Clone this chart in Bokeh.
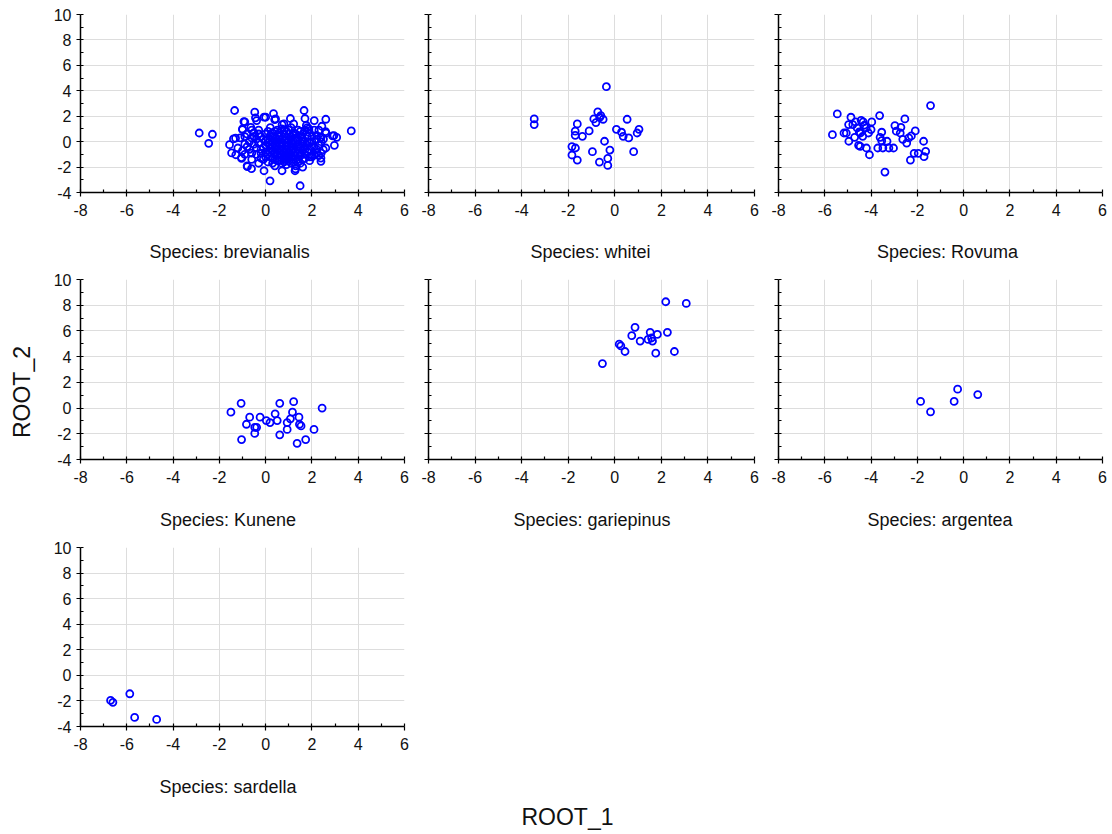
from bokeh.plotting import figure
from bokeh.layouts import column, row
from bokeh.models import SingleIntervalTicker, Range1d, CustomJSTickFormatter, Div
from bokeh.embed import file_html
from bokeh.resources import INLINE

# ---------------- data ----------------
brev_x = [-2.87, -2.3, -2.46, -1.34, -1.56, 3.7, 1.49, 0.19, 1.66, 2.6, 2.1, -0.47, 0.34, -0.44, -0.07, 0.39,
          1.07, 1.7, -0.9, -1.04, -0.79, -0.61, -0.07, 0.71, 1.27, 1.6, 2.39, 2.39, 2.97, 3.07, 2.89, 2.43,
          2.61, 2.39, 2.49, 0.71, 1.21, 1.76, -1.39, -1.47, -1.29, -1.0, -0.64, -1.3, -1.04, -0.8, -0.94, -0.39,
          0.0, 0.43, 2.59, 2.95, 2.37, 1.29, 0.79, 1.87, 2.01,
          -0.8, -0.6, -0.5, -0.7, -0.4, -0.3, -0.2, -0.1, 0.0, 0.1, 0.2, 0.3, 0.4, 0.5, 0.6, 0.7, 0.8, 0.9, 1.0,
          1.1, 1.2, 1.3, 1.4, 1.5, 1.6, 1.7, 1.8, 1.9, 2.0, 2.1, 2.2, 2.3,
          -0.9, -0.6, -0.3, 0.0, 0.2, 0.4, 0.5, 0.7, 0.9, 1.1, 1.3, 1.5, 1.7, 1.9, 2.1, 2.4,
          -0.5, -0.2, 0.1, 0.3, 0.6, 0.8, 1.0, 1.2, 1.4, 1.6, 1.8, 2.0, 0.5, 0.9, 1.3, 0.2, 0.7, 1.1, 0.0, 1.5,
          0.4, 0.8, 1.2, 1.6, -0.1, 0.3, 0.6, 1.0, 1.4, 1.8, 2.2, -0.4, 0.1, 0.6, 1.0, 1.4, 1.9, -0.7, -0.3, 0.2,
          0.5, 0.9, 1.3, 1.7, 0.0, 0.4, 0.8, 1.2, 1.6, 2.0, -0.2, 0.7, 1.1, 1.5, 0.3, 0.9, 1.7, -1.1, -1.2, -0.9,
          -1.0, 2.5, 2.3, 2.6,
          0.6, 0.7, 0.8, 0.9, 1.0, 1.1, 1.2, 1.3, 0.5, 0.4, 0.6, 1.0, 1.2, 0.3, 0.8, 1.4, 0.2, 0.5, 0.9, 1.1,
          -0.6, -0.4, -0.2, 0.0, 0.1, 0.3, 0.4, 0.6, 0.7, 0.9, 1.0, 1.2, 1.3, 1.5, 1.6, 1.8, 1.9, 2.1, 2.2, 2.3,
          -0.8, -0.5, -0.1, 0.1, 0.3, 0.5, 0.7, 0.8, 1.0, 1.1, 1.3, 1.4, 1.6, 1.7, 1.9, 2.0, 2.2, 2.4, -0.3, 0.2,
          0.6, 0.9, 1.2, 0.4, 0.8, 1.4, 1.8, -0.6, -0.9, -1.0]
brev_y = [0.68, 0.58, -0.13, 2.45, -0.24, 0.84, -3.47, -3.08, 2.45, 1.76, 1.66, 2.32, 2.21, 1.87, 1.92, 1.74,
          1.82, 1.82, 1.55, -1.32, -1.97, -2.13, -2.29, -2.29, -2.29, -2.0, -1.55, -1.29, -0.29, 0.34, 0.45, 1.21,
          0.68, 0.29, -0.63, 1.34, 1.39, 1.29, 0.21, -0.89, -1.03, 0.95, 1.13, 0.27, -1.25, -1.9, 1.58, 1.66,
          1.92, 1.79, 0.79, 0.48, 0.35, -2.14, 1.4, 1.0, -1.09,
          0.6, 0.3, -0.2, -0.6, -1.0, 0.9, 0.4, -0.5, -1.2, 0.2, -0.8, 0.7, -0.3, -1.5, 0.4, -0.7, 0.1, -1.1, 0.6,
          -0.4, -1.6, 0.3, -0.9, 0.8, -0.2, -1.3, 0.4, -0.6, 0.0, -1.0, 0.5, -0.3,
          -0.2, -1.4, -1.7, 0.6, 1.1, -1.9, 0.9, 1.0, -1.8, 1.1, -1.9, -0.5, 0.9, -1.5, 0.9, -0.9,
          0.7, -0.9, -0.1, -1.3, -0.1, -1.4, -0.8, 0.0, -0.4, 0.2, -0.8, -1.2, 0.1, 0.3, -0.6, -0.5, -0.4, -1.2, -0.8, -1.1,
          0.4, -0.9, 0.7, -0.7, 0.2, 0.0, -0.9, 0.1, 0.1, 0.0, -0.6, -0.5, -1.6, -1.2, -1.5, -1.4, -0.1, 0.0, -0.1, 0.5,
          -0.6, -0.3, -1.1, -0.4, -0.3, -1.0, 0.6, -0.6, 0.6, 0.4, -1.3, -1.7, 0.4, -1.7, -0.7, -0.6, -1.0, 0.3, -0.5, -1.0,
          1.0, 0.2, 0.9, -0.5,
          -0.2, 0.2, -0.5, -0.1, -0.3, -0.7, -0.2, 0.1, -0.4, -0.8, -0.7, -1.0, -0.9, -0.4, -1.1, -0.2, -0.2, -1.0, -0.8, -0.1,
          -0.9, 0.2, -0.6, 0.1, -1.0, 0.4, -1.4, 0.7, -1.0, 0.8, -1.3, 0.5, -0.8, 0.4, -1.4, -0.3, 0.7, -0.4, 0.2, -1.1,
          -0.4, 0.4, -1.4, 0.8, -1.7, 0.5, -0.1, -1.6, 0.9, -1.7, 0.6, -1.6, 0.0, -0.6, -1.2, -0.4, -0.9, 0.0, 0.6, -1.2,
          -1.5, -1.4, -1.4, 0.8, 0.9, 0.9, 1.1, 0.9, 0.4, -0.7]

whitei_x = [-0.36, -3.46, -3.46, -1.61, -1.7, -1.7, -1.39, -1.1, -0.73, -0.9, -0.81, -0.6, -0.5, -0.65, 0.53, 0.07,
            0.29, 0.36, 0.6, 0.96, 1.04, -0.44, -0.21, 0.81, -0.96, -1.84, -1.69, -1.84, -1.61, -0.66, -0.3, -0.3]
whitei_y = [4.32, 1.79, 1.34, 1.39, 0.82, 0.5, 0.42, 0.84, 2.34, 1.79, 1.5, 2.05, 1.76, 1.9, 1.76, 0.97,
            0.74, 0.42, 0.29, 0.68, 0.97, 0.03, -0.66, -0.79, -0.79, -0.39, -0.5, -1.05, -1.45, -1.61, -1.32, -1.87]

rovuma_x = [-1.43, -5.46, -5.67, -5.17, -5.07, -4.96, -4.97, -4.87, -4.79, -4.67, -4.6, -4.71, -4.54, -4.47, -4.43,
            -4.34, -4.29, -4.21, -4.46, -4.36, -4.2, -4.07, -4.11, -4.0, -3.97, -4.51, -3.63, -3.54, -3.61, -3.54,
            -3.71, -3.49, -3.31, -3.23, -3.03, -3.4, -2.97, -2.91, -2.71, -2.74, -2.54, -2.63, -2.46, -2.37, -2.26,
            -2.09, -1.73, -2.14, -1.96, -1.64, -1.71, -2.3]
rovuma_y = [2.84, 2.18, 0.55, 0.68, 0.68, 0.03, 1.34, 1.92, 1.34, 1.55, 1.08, 0.34, -0.29, -0.37, 1.68,
            1.55, 1.29, 1.08, 0.68, 0.42, -0.5, -1.03, 0.68, 0.95, 1.55, 0.76, 2.05, 0.74, 0.34, 0.08,
            -0.5, -0.5, 0.03, -0.5, -0.5, -2.39, 1.26, 0.82, 1.13, 0.68, 1.79, 0.18, -0.11, 0.29, 0.45,
            0.84, 0.03, -0.92, -0.92, -0.76, -1.18, -1.45]

kunene_x = [-1.5, -1.06, -1.04, -0.69, -0.83, -0.47, -0.39, -0.47, -0.24, 0.03, 0.19, 0.41, 0.5, 0.61, 0.61,
            0.93, 0.93, 1.07, 1.16, 1.21, 1.44, 1.46, 1.53, 1.36, 1.73, 2.09, 2.44]
kunene_y = [-0.32, 0.37, -2.45, -0.71, -1.26, -1.5, -1.5, -1.97, -0.71, -0.97, -1.13, -0.45, -0.97, 0.37, -2.08,
            -1.66, -1.13, -0.84, -0.32, 0.5, -0.71, -1.26, -1.39, -2.74, -2.45, -1.66, 0.0]

gariep_x = [2.19, 3.07, 0.87, 0.73, 1.09, 1.52, 1.83, 2.26, 1.43, 1.62, 1.58, 0.19, 0.26, 0.44, 1.76, 2.56, -0.53]
gariep_y = [8.27, 8.14, 6.28, 5.63, 5.21, 5.89, 5.73, 5.89, 5.34, 5.21, 5.45, 4.97, 4.84, 4.4, 4.27, 4.4, 3.46]

argent_x = [-1.86, -1.43, -0.41, -0.26, 0.61]
argent_y = [0.52, -0.29, 0.52, 1.47, 1.05]

sard_x = [-6.7, -6.6, -5.87, -5.66, -4.71]
sard_y = [-1.96, -2.11, -1.44, -3.29, -3.45]

species = ["brevianalis", "whitei", "Rovuma", "Kunene", "gariepinus", "argentea", "sardella"]
tick_interval = 2
x_limits = (-8, 6)
y_limits = (-4, 10)
x_title = "ROOT_1"
y_title = "ROOT_2"

FONT = "Liberation Sans"
BLUE = "#0000ff"
TXT = "#111111"
LEFT = 40          # width of the left strip holding ROOT_2
MAIN_W = 1070      # width of the panel grid


def make_panel(xs, ys, fw, fh, lb, rb, tb, bb, ylabels):
    p = figure(frame_width=fw, frame_height=fh,
               min_border_left=lb, min_border_right=rb, min_border_top=tb, min_border_bottom=bb,
               x_range=Range1d(*x_limits), y_range=Range1d(*y_limits),
               output_backend="svg", toolbar_location=None, tools="")
    p.outline_line_color = None
    p.background_fill_color = "white"
    p.border_fill_color = "white"
    for ax in (p.xaxis[0], p.yaxis[0]):
        ax.ticker = SingleIntervalTicker(interval=tick_interval, num_minor_ticks=2)
        ax.axis_line_color = "black"
        ax.axis_line_width = 1.5
        ax.major_tick_line_color = "black"
        ax.major_tick_line_width = 1.2
        ax.major_tick_out = 4
        ax.major_tick_in = 0
        ax.minor_tick_line_color = "black"
        ax.minor_tick_line_width = 1.2
        ax.minor_tick_in = 3
        ax.minor_tick_out = 0
        ax.major_label_text_font = FONT
        ax.major_label_text_font_size = "16px"
        ax.major_label_text_color = TXT
    p.xaxis.formatter = CustomJSTickFormatter(code="return tick.toString()")
    p.xaxis.major_label_standoff = 7
    p.yaxis.major_label_standoff = 5
    if ylabels:
        p.yaxis.formatter = CustomJSTickFormatter(code="return tick.toString()")
    else:
        p.yaxis.formatter = CustomJSTickFormatter(code="return ''")
    p.grid.grid_line_color = "#dddddd"
    p.grid.grid_line_width = 1
    p.scatter(xs, ys, marker="circle", size=7, fill_color=None, line_color=BLUE, line_width=1.8)
    return p


def text_html(txt, cx, cy, size, rotate=False):
    rot = " rotate(-90deg)" if rotate else ""
    return (f'<div style="position:absolute;left:{cx}px;top:{cy}px;'
            f'transform:translate(-50%,-50%){rot};white-space:nowrap;'
            f"font-family:'{FONT}';font-size:{size}px;line-height:1;color:{TXT};\">{txt}</div>")


def text_strip(items, w, h):
    inner = "".join(text_html(*it) for it in items)
    return Div(text=f'<div style="position:relative;width:{w}px;height:{h}px;margin:0;padding:0;">{inner}</div>',
               width=w, height=h, margin=0)


# frames (page px): columns 80-404, 428-754, 778-1102; rows 14-192, 279-459, 547-726
p1 = make_panel(brev_x, brev_y, 324, 178, LEFT, 12, 14, 34, True)
p2 = make_panel(whitei_x, whitei_y, 326, 178, 12, 12, 14, 34, False)
p3 = make_panel(rovuma_x, rovuma_y, 324, 178, 12, 8, 14, 34, False)
p4 = make_panel(kunene_x, kunene_y, 324, 180, LEFT, 12, 9, 34, True)
p5 = make_panel(gariep_x, gariep_y, 326, 180, 12, 12, 9, 34, False)
p6 = make_panel(argent_x, argent_y, 324, 180, 12, 8, 9, 34, False)
p7 = make_panel(sard_x, sard_y, 324, 179, LEFT, 12, 15, 34, True)

lab = lambda i: "Species: " + species[i]
strip1 = text_strip([(lab(0), 229.6 - LEFT, 25.5, 18), (lab(1), 590.5 - LEFT, 25.5, 18),
                     (lab(2), 947.5 - LEFT, 25.5, 18)], MAIN_W, 44)
strip2 = text_strip([(lab(3), 228 - LEFT, 27, 18), (lab(4), 592 - LEFT, 27, 18),
                     (lab(5), 940 - LEFT, 27, 18)], MAIN_W, 39)
strip3 = text_strip([(lab(6), 228 - LEFT, 27, 18), (x_title, 567.5 - LEFT, 57, 23)], MAIN_W, 74)
left_strip = text_strip([(y_title, 22, 392, 23, True)], LEFT, 834)

grid = column(row(p1, p2, p3), strip1, row(p4, p5, p6), strip2, row(p7), strip3)
layout = row(left_strip, grid)

open("out.html", "w").write(file_html(layout, INLINE))
